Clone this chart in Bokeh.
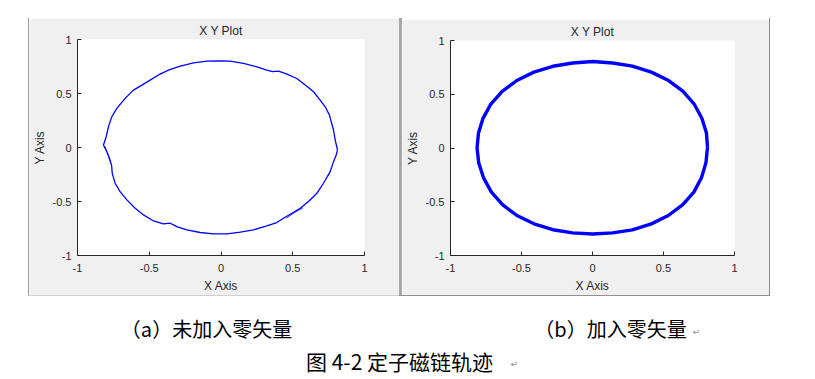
from bokeh.plotting import figure
from bokeh.layouts import column, row
from bokeh.models import Spacer, Range1d, FixedTicker, ColumnDataSource
from bokeh.core.properties import value
from bokeh.embed import file_html
from bokeh.resources import INLINE

# ---------------- data ----------------
tick_values = [-1.0, -0.5, 0.0, 0.5, 1.0]
tick_labels = ["-1", "-0.5", "0", "0.5", "1"]

# (a) without zero vectors
xa = [0.812, 0.796, 0.784, 0.765, 0.756, 0.726, 0.691, 0.645, 0.587, 0.528,
      0.459, 0.401, 0.360, 0.319, 0.250, 0.157, 0.064, -0.006, -0.099, -0.192,
      -0.284, -0.366, -0.424, -0.494, -0.563, -0.610, -0.668, -0.726, -0.761, -0.784,
      -0.800, -0.819, -0.795, -0.772, -0.762, -0.758, -0.738, -0.703, -0.656, -0.598,
      -0.540, -0.470, -0.401, -0.354, -0.308, -0.238, -0.145, -0.052, 0.041, 0.134,
      0.226, 0.319, 0.389, 0.447, 0.494, 0.552, 0.610, 0.668, 0.714, 0.761,
      0.784, 0.803, 0.812]
ya = [-0.023, 0.069, 0.162, 0.254, 0.300, 0.377, 0.439, 0.516, 0.578, 0.639,
      0.679, 0.707, 0.703, 0.717, 0.747, 0.778, 0.800, 0.803, 0.800, 0.784,
      0.753, 0.716, 0.680, 0.624, 0.568, 0.531, 0.455, 0.362, 0.285, 0.193,
      0.100, 0.023, -0.041, -0.120, -0.170, -0.239, -0.331, -0.408, -0.485, -0.562,
      -0.624, -0.680, -0.707, -0.701, -0.732, -0.763, -0.787, -0.800, -0.800, -0.784,
      -0.763, -0.726, -0.695, -0.646, -0.609, -0.562, -0.500, -0.424, -0.331, -0.224,
      -0.131, -0.069, -0.023]
# repeated passes visible as double lines
xa_left_pass = [-0.812, -0.788, -0.770]
ya_left_pass = [0.015, -0.060, -0.140]
xa_br_pass = [0.455, 0.515, 0.570]
ya_br_pass = [-0.655, -0.600, -0.560]

# (b) with zero vectors
xb = [0.810, 0.802, 0.770, 0.716, 0.638, 0.536, 0.414, 0.281, 0.142, 0.002,
      -0.140, -0.279, -0.413, -0.533, -0.636, -0.716, -0.771, -0.803, -0.813,
      -0.801, -0.768, -0.713, -0.634, -0.532, -0.412, -0.279, -0.140, 0.001,
      0.141, 0.281, 0.414, 0.534, 0.636, 0.715, 0.768, 0.799, 0.810]
yb = [0.010, 0.142, 0.277, 0.409, 0.526, 0.627, 0.706, 0.761, 0.791, 0.804,
      0.791, 0.760, 0.706, 0.628, 0.527, 0.408, 0.276, 0.140, 0.000,
      -0.140, -0.275, -0.408, -0.527, -0.628, -0.705, -0.760, -0.790, -0.800,
      -0.790, -0.761, -0.706, -0.628, -0.527, -0.408, -0.274, -0.136, 0.010]

plot_title = "X Y Plot"
x_label = "X Axis"
y_label = "Y Axis"
caption_a = "（a）未加入零矢量"
caption_b = "（b）加入零矢量"
figure_caption = "图 4-2 定子磁链轨迹"

# ---------------- styling ----------------
PANEL_BG = "#f0f0f0"
AX_COL = "#262626"
FONT = "Liberation Sans"
CJK = "Noto Sans CJK SC"


def make_panel(width, height, bl, br, bt, bb):
    p = figure(width=width, height=height,
               x_range=Range1d(-1, 1), y_range=Range1d(-1, 1),
               output_backend="svg", toolbar_location=None,
               min_border_left=bl, min_border_right=br,
               min_border_top=bt, min_border_bottom=bb,
               background_fill_color="white", border_fill_color=PANEL_BG,
               outline_line_color=None)
    p.title.text = plot_title
    p.title.align = "center"
    p.title.text_font = FONT
    p.title.text_font_size = "12px"
    p.title.text_font_style = "normal"
    p.title.text_color = AX_COL
    p.title.standoff = 4
    p.grid.visible = False
    for ax, lab in ((p.xaxis, x_label), (p.yaxis, y_label)):
        ax.ticker = FixedTicker(ticks=tick_values)
        ax.major_label_overrides = dict(zip(tick_values, tick_labels))
        ax.minor_tick_line_color = None
        ax.major_tick_in = 4
        ax.major_tick_out = 0
        ax.axis_line_color = AX_COL
        ax.major_tick_line_color = AX_COL
        ax.major_label_text_font = FONT
        ax.major_label_text_font_size = "11px"
        ax.major_label_text_color = AX_COL
        ax.axis_label = lab
        ax.axis_label_text_font = FONT
        ax.axis_label_text_font_size = "12px"
        ax.axis_label_text_font_style = "normal"
        ax.axis_label_text_color = AX_COL
    p.xaxis.major_label_standoff = 8
    p.xaxis.axis_label_standoff = 4
    p.yaxis.major_label_standoff = 6
    p.yaxis.axis_label_standoff = 3
    return p


pa = make_panel(370, 277, 48, 35, 21, 40)
pa.line(x="x", y="y", source=ColumnDataSource(dict(x=xa, y=ya)),
        line_color="#0000ff", line_width=1.3, line_join="round")
pa.line(xa_left_pass, ya_left_pass, line_color="#0000ff", line_width=1.0, line_alpha=0.8)
pa.line(xa_br_pass, ya_br_pass, line_color="#0000ff", line_width=1.0, line_alpha=0.8)

pb = make_panel(367, 276, 47, 35, 21, 40)
pb.margin = (1, 0, 0, 0)
pb.line(x="x", y="y", source=ColumnDataSource(dict(x=xb, y=yb)),
        line_color="#0000ff", line_width=3.4, line_join="round")

# captions
pc = figure(width=799, height=83, x_range=Range1d(0, 799), y_range=Range1d(83, 0),
            output_backend="svg", toolbar_location=None,
            x_axis_type=None, y_axis_type=None, min_border=0,
            outline_line_color=None, background_fill_color="white",
            border_fill_color="white")
pc.grid.visible = False
pc.text(x=[206], y=[32], text=[caption_a], text_font=value(CJK), text_font_size="20px",
        text_align="center", text_baseline="middle", text_color="black")
pc.text(x=[610], y=[32], text=[caption_b], text_font=value(CJK), text_font_size="20px",
        text_align="center", text_baseline="middle", text_color="black")
pc.text(x=[399], y=[64], text=[figure_caption], text_font=value(CJK), text_font_size="21px",
        text_align="center", text_baseline="middle", text_color="black")
pc.text(x=[692, 510], y=[35, 67], text=["↵", "↵"], text_font=value("DejaVu Sans"),
        text_font_size="9px", text_align="left", text_baseline="middle", text_color="#909090")


def bar(w, h, color):
    return Spacer(width=w, height=h, styles={"background-color": color})


top_row = row(Spacer(width=28, height=277), bar(1, 277, "#9a9a9a"), pa,
              bar(3, 277, "#a8a8a8"), pb, bar(1, 277, "#8a8a8a"))
line_row = row(Spacer(width=28, height=1), bar(371, 1, "#d0d0d0"), bar(371, 1, "#909090"))
layout = column(Spacer(width=807, height=18), top_row, line_row, pc)

open("out.html", "w").write(file_html(layout, INLINE))
